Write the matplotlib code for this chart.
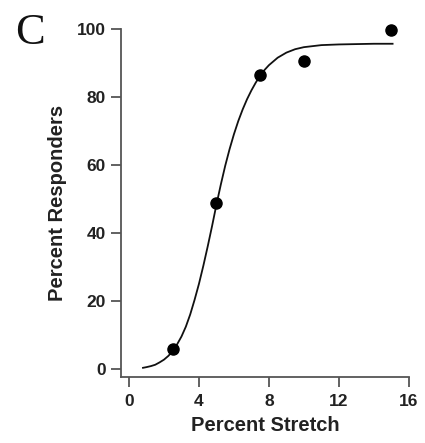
import numpy as np
import matplotlib.pyplot as plt

# measured responders (percent) at each stretch level
stretch = [2.5, 5.0, 7.5, 10.0, 15.0]
responders = [5.8, 48.7, 86.4, 90.4, 99.6]

# fitted curve
fit_x = [0.8, 1.0, 1.25, 1.5, 1.75, 2.0, 2.25, 2.5, 2.75, 3.0, 3.25, 3.5, 3.75,
         4.0, 4.25, 4.5, 4.75, 5.0, 5.25, 5.5, 5.75, 6.0, 6.25, 6.5, 6.75,
         7.0, 7.25, 7.5, 7.75, 8.0, 8.5, 9.0, 9.5, 10.0, 11.0, 12.0, 13.0, 14.0, 15.07]
fit_y = [0.3, 0.5, 0.8, 1.2, 1.9, 2.7, 3.8, 5.2, 7.2, 9.5, 12.4, 16.0, 20.3,
         25.0, 30.3, 36.0, 42.0, 48.3, 54.2, 59.7, 64.6, 69.0, 72.9, 76.3, 79.3,
         81.9, 84.2, 86.2, 87.9, 89.3, 91.5, 93.0, 94.0, 94.6, 95.2, 95.4, 95.5, 95.6, 95.6]

xticks = [0, 4, 8, 12, 16]
yticks = [0, 20, 40, 60, 80, 100]

plt.rcParams['font.family'] = ['Liberation Sans', 'DejaVu Sans']

fig = plt.figure(figsize=(4.25, 4.43), dpi=100)
ax = fig.add_axes([0.285, 0.149, 0.677, 0.786])

ax.plot(fit_x, fit_y, color='#111111', lw=1.3, zorder=2)
ax.plot(stretch, responders, 'o', color='black', ms=8, clip_on=False, zorder=3)

ax.set_xlim(-0.45, 16)
ax.set_ylim(-2.4, 100)
ax.set_xticks(xticks)
ax.set_yticks(yticks)

for s in ['top', 'right']:
    ax.spines[s].set_visible(False)
for s in ['left', 'bottom']:
    ax.spines[s].set_color('#555555')
    ax.spines[s].set_linewidth(1.3)

ax.tick_params(axis='both', color='#555555', width=1.3, length=7,
               labelsize=12.5, labelcolor='#222222')
ax.tick_params(axis='x', pad=5)
ax.tick_params(axis='y', pad=4)
for lab in ax.get_xticklabels() + ax.get_yticklabels():
    lab.set_fontweight('bold')

ax.set_xlabel('Percent Stretch', fontsize=14.5, fontweight='bold', color='#222222', labelpad=5)
ax.set_ylabel('Percent Responders', fontsize=14.5, fontweight='bold', color='#222222', labelpad=7)

fig.text(0.07, 0.925, 'C', family=['Liberation Serif', 'DejaVu Serif'], fontsize=32,
         ha='center', va='center', color='#111111')

fig.savefig('out.png', dpi=100)
